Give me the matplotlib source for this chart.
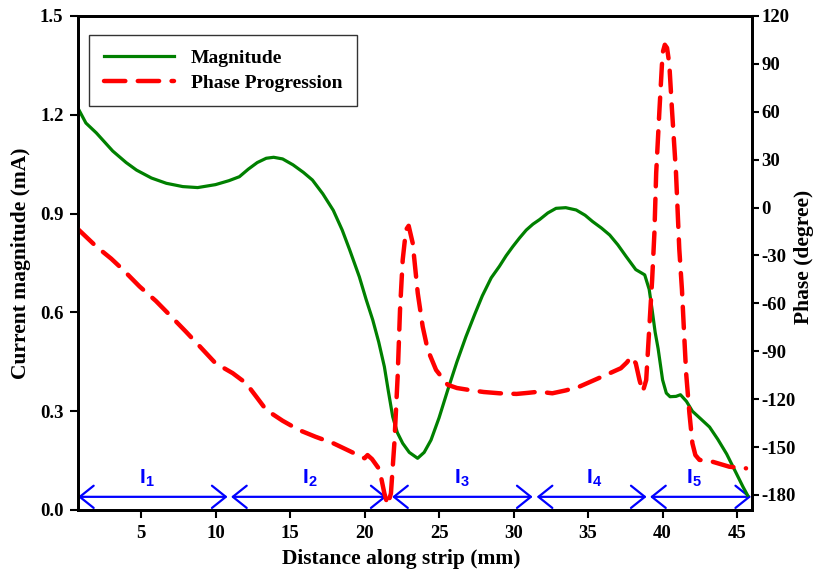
import matplotlib
matplotlib.use("Agg")
import matplotlib.pyplot as plt

# Current magnitude along the strip (mm, mA)
dist_mag = [0.77, 1.3, 2.0, 3.1, 4.0, 4.7, 5.7, 6.7, 7.8, 8.8, 10.0, 10.9, 11.6,
            12.2, 12.8, 13.4, 13.9, 14.5, 15.2, 15.9, 16.5, 17.2, 17.9, 18.5,
            19.0, 19.65, 20.1, 20.55, 20.95, 21.33, 21.6, 21.89, 22.2, 22.56,
            23.0, 23.56, 24.0, 24.46, 25.0, 25.58, 26.2, 26.8, 27.4, 27.9, 28.5,
            29.05, 29.5, 29.95, 30.4, 30.85, 31.3, 31.75, 32.3, 32.85, 33.5,
            34.2, 34.8, 35.3, 35.9, 36.45, 37.0, 37.55, 38.2, 38.8, 39.1, 39.3,
            39.5, 39.7, 40.0, 40.25, 40.5, 40.9, 41.2, 41.6, 42.0, 42.6, 43.15,
            43.7, 44.3, 44.95, 45.4, 45.7]
magnitude = [1.22, 1.175, 1.145, 1.09, 1.055, 1.032, 1.008, 0.992, 0.982, 0.979,
             0.988, 1.0, 1.012, 1.035, 1.055, 1.068, 1.071, 1.066, 1.048, 1.025,
             1.002, 0.96, 0.91, 0.85, 0.79, 0.708, 0.64, 0.577, 0.51, 0.435,
             0.36, 0.283, 0.235, 0.2025, 0.175, 0.157, 0.175, 0.2125, 0.28,
             0.364, 0.45, 0.526, 0.595, 0.65, 0.705, 0.74, 0.772, 0.8, 0.826,
             0.85, 0.868, 0.882, 0.902, 0.916, 0.918, 0.911, 0.895, 0.876, 0.856,
             0.835, 0.805, 0.77, 0.73, 0.714, 0.67, 0.607, 0.54, 0.49, 0.395,
             0.355, 0.344, 0.345, 0.35, 0.33, 0.3, 0.275, 0.252, 0.215, 0.17,
             0.111, 0.07, 0.045]

# Phase progression along the strip (mm, degree)
dist_phase = [0.77, 2.0, 3.0, 3.8, 4.9, 6.0, 7.0, 8.0, 9.0, 10.0, 11.15, 12.05,
              12.7, 13.4, 14.5, 15.6, 16.7, 17.9, 19.0, 20.0, 20.2, 20.5, 21.0,
              21.33, 21.55, 21.77, 22.0, 22.22, 22.38, 22.56, 22.78, 22.96,
              23.23, 23.57, 23.9, 24.24, 24.8, 25.58, 26.2, 27.0, 28.0, 29.05,
              30.2, 31.0, 31.7, 32.6, 33.5, 34.4, 35.3, 36.2, 37.2, 37.6, 37.9,
              38.2, 38.45, 38.67, 38.9, 39.1, 39.3, 39.45, 39.57, 39.79, 40.0,
              40.15, 40.3, 40.45, 40.63, 40.9, 41.12, 41.3, 41.45, 41.58, 41.8,
              42.0, 42.2, 42.47, 43.36, 44.48, 45.6]
phase = [-13.5, -24.4, -32.0, -39.0, -49.4, -58.5, -68.0, -77.6, -87.5, -97.5,
         -103.7, -110.0, -118.0, -126.7, -133.5, -139.3, -143.5, -147.6, -152.5,
         -157.0, -155.0, -157.5, -164.0, -179.0, -186.3, -179.0, -147.6, -105.9,
         -64.0, -32.7, -13.9, -11.4, -22.2, -53.6, -74.5, -89.1, -101.7, -111.0,
         -113.0, -114.2, -115.5, -116.3, -116.7, -116.0, -115.3, -116.3, -114.5,
         -112.2, -108.5, -104.8, -100.6, -97.0, -93.3, -97.5, -108.0, -115.3,
         -108.0, -76.6, -45.0, -16.0, 21.7, 61.3, 96.9, 102.0, 100.0, 90.0, 61.3,
         21.7, -26.0, -51.5, -80.0, -103.7, -128.8, -147.6, -155.0, -158.0,
         -159.2, -162.3, -163.3]

# Current segments along the strip
segment_labels = ["1", "2", "3", "4", "5"]
segment_starts = [0.77, 11.04, 21.85, 31.55, 39.16]
segment_ends = [10.81, 21.48, 31.28, 38.93, 45.94]
segment_label_x = [5.4, 16.3, 26.5, 35.4, 42.1]
segment_level = 0.04
segment_label_level = 0.097

x_ticks = [5, 10, 15, 20, 25, 30, 35, 40, 45]
mag_ticks = [0.0, 0.3, 0.6, 0.9, 1.2, 1.5]
phase_ticks = [-180, -150, -120, -90, -60, -30, 0, 30, 60, 90, 120]

plt.rcParams["font.family"] = ["Liberation Serif", "DejaVu Serif"]
plt.rcParams["font.weight"] = "bold"
plt.rcParams["axes.unicode_minus"] = False
plt.rcParams["mathtext.fontset"] = "custom"
plt.rcParams["mathtext.rm"] = "Liberation Sans"
plt.rcParams["mathtext.bf"] = "Liberation Sans:bold"

fig = plt.figure(figsize=(8.16, 5.72), dpi=100)
ax = fig.add_axes([78 / 816, 1 - 510 / 572, 674 / 816, 494 / 572])
ax2 = ax.twinx()

line_mag, = ax.plot(dist_mag, magnitude, color="#008000", lw=2.3,
                    solid_joinstyle="round", label="Magnitude")
line_ph, = ax2.plot(dist_phase, phase, color="#ff0000", lw=3.2,
                    dashes=(4.8, 2.8), dash_capstyle="round",
                    dash_joinstyle="round", label="Phase Progression")

ax.set_xlim(0.77, 46.0)
ax.set_ylim(0.0, 1.5)
ax2.set_ylim(-189.4, 120)

ax.set_xticks(x_ticks)
ax.set_yticks(mag_ticks)
ax.set_yticklabels([f"{v:.1f}" for v in mag_ticks])
ax2.set_yticks(phase_ticks)

tick_font = 13.5
ax.tick_params(axis="x", direction="out", length=6, width=1.5, pad=4.5,
               labelsize=tick_font, top=False)
ax.tick_params(axis="y", direction="out", length=5.5, width=1.5, pad=5,
               labelsize=tick_font)
ax2.tick_params(axis="y", direction="out", length=5, width=1.5, pad=2,
                labelsize=tick_font)
for a in (ax, ax2):
    for s in a.spines.values():
        s.set_linewidth(2.0)

ax.set_xlabel("Distance along strip (mm)", fontsize=15.5, fontweight="bold")
ax.set_ylabel("Current magnitude (mA)", fontsize=15.5, fontweight="bold")
ax2.set_ylabel("Phase (degree)", fontsize=15.5, fontweight="bold")
ax.xaxis.set_label_coords(0.48, -0.078)
ax.yaxis.set_label_coords(-0.07, 0.5)
ax2.yaxis.set_label_coords(1.062, 0.512)

# Segment markers with double-headed arrows
for name, x0, x1, xl in zip(segment_labels, segment_starts, segment_ends,
                            segment_label_x):
    ax.annotate("", xy=(x1, segment_level), xytext=(x0, segment_level),
                arrowprops=dict(arrowstyle="<->,head_length=1.0,head_width=0.8",
                                color="#0000ff", lw=1.6, shrinkA=0, shrinkB=0,
                                mutation_scale=10),
                annotation_clip=False, zorder=1)
    ax.text(xl, segment_label_level, r"$\mathbf{I}_{\mathbf{%s}}$" % name,
            color="#0000ff", fontsize=15, ha="center", va="center")

leg = ax2.legend([line_mag, line_ph], ["Magnitude", "Phase Progression"],
                 loc="upper left", bbox_to_anchor=(0.0163, 0.9615),
                 borderaxespad=0, fancybox=False, frameon=True,
                 prop={"family": "Liberation Serif", "weight": "bold", "size": 14},
                 handlelength=3.6, handletextpad=0.9, labelspacing=0.35,
                 borderpad=0.75)
leg.get_frame().set_edgecolor("black")
leg.get_frame().set_linewidth(1.0)

fig.savefig("out.png", dpi=100)
